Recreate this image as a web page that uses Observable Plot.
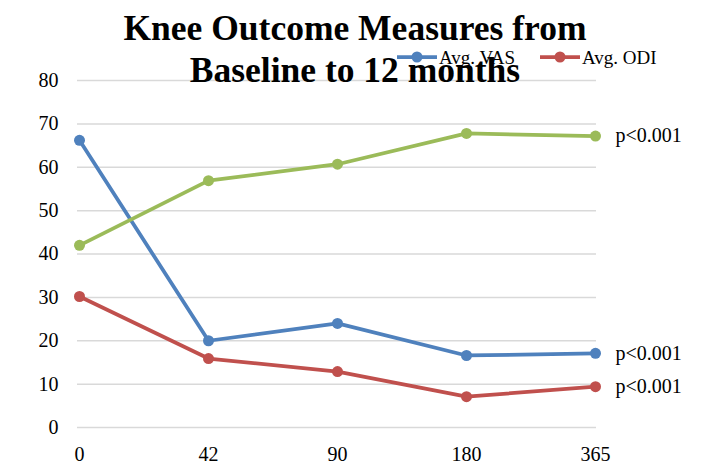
<!DOCTYPE html>
<html>
<head>
<meta charset="utf-8">
<script src="https://cdn.jsdelivr.net/npm/d3@7"></script>
<script src="https://cdn.jsdelivr.net/npm/@observablehq/plot@0.6"></script>
<style>
  html, body { margin: 0; padding: 0; background: #fff; overflow: hidden; }
  #wrap { position: relative; width: 701px; height: 465px; }
  #wrap svg.plot { position: absolute; left: 0; top: 0; }
  #title { position: absolute; left: 55px; top: 7px; width: 600px; text-align: center;
    font-family: "Liberation Serif", "Times New Roman", serif; font-weight: bold; font-size: 35.5px;
    line-height: 42px; color: #000; white-space: pre; z-index: 3; }
  #legend { position: absolute; left: 0; top: 0; z-index: 2; }
</style>
</head>
<body>
<div id="wrap"></div>
<script>
// ---- data ----
const days = ["0", "42", "90", "180", "365"];
const vas = [66.2, 20.0, 24.0, 16.6, 17.1];
const odi = [30.2, 15.9, 12.9, 7.1, 9.4];
const third = [42.0, 56.9, 60.7, 67.8, 67.2];
const seriesNames = ["Avg. VAS", "Avg. ODI", "Third"];
const seriesColors = ["#4f81bd", "#c0504d", "#9bbb59"];
const pLabels = ["p<0.001", "p<0.001", "p<0.001"];
const yTicks = [0, 10, 20, 30, 40, 50, 60, 70, 80];
const titleLines = ["Knee Outcome Measures from", "Baseline to 12 months"];

// ---- build table ----
const seriesValues = [vas, odi, third];
const rows = [];
seriesValues.forEach((vals, s) => {
  vals.forEach((v, i) => rows.push({series: seriesNames[s], day: days[i], value: v}));
});
const lastRows = seriesValues.map((vals, s) => ({
  series: seriesNames[s], day: days[days.length - 1], value: vals[vals.length - 1], p: pLabels[s]
}));

const color = {domain: seriesNames, range: seriesColors};

const chart = Plot.plot({
  width: 701,
  height: 465,
  marginLeft: 77,
  marginRight: 105,
  marginTop: 80,
  marginBottom: 38,
  style: {fontFamily: "Liberation Serif, Times New Roman, serif", fontSize: "20px", color: "#000", background: "#fff"},
  x: {type: "point", domain: days, padding: 0},
  y: {domain: [0, 80], ticks: yTicks},
  color: color,
  marks: [
    Plot.gridY(yTicks, {stroke: "#d9d9d9", strokeOpacity: 1, strokeWidth: 1.5}),
    Plot.axisY(yTicks, {tickSize: 0, tickPadding: 19, fontSize: 20, label: null, fill: "#000"}),
    Plot.axisX({tickSize: 0, tickPadding: 19, fontSize: 20, label: null, fill: "#000"}),
    Plot.line(rows, {x: "day", y: "value", z: "series", stroke: "series", strokeWidth: 3.75, strokeLinejoin: "round", strokeLinecap: "round"}),
    Plot.dot(rows, {x: "day", y: "value", fill: "series", r: 5.5}),
    Plot.text(lastRows, {x: "day", y: "value", text: "p", dx: 20, textAnchor: "start", fontSize: 20, fill: "#000"})
  ]
});
chart.classList.add("plot");
const wrap = document.getElementById("wrap");
wrap.appendChild(chart);

// ---- legend (two entries) ----
const legendEntries = [
  {name: seriesNames[0], color: seriesColors[0], x: 397},
  {name: seriesNames[1], color: seriesColors[1], x: 540}
];
const leg = d3.create("svg").attr("id", "legend").attr("width", 701).attr("height", 90)
  .style("font-family", "Liberation Serif, Times New Roman, serif").style("font-size", "19px");
legendEntries.forEach(e => {
  const g = leg.append("g").attr("transform", `translate(${e.x},57)`);
  g.append("line").attr("x1", 0).attr("x2", 40).attr("y1", 0).attr("y2", 0)
    .attr("stroke", e.color).attr("stroke-width", 3.75);
  g.append("circle").attr("cx", 20).attr("cy", 0).attr("r", 5.5).attr("fill", e.color);
  g.append("text").attr("x", 42).attr("y", 6.5).text(e.name).attr("fill", "#000");
});
wrap.appendChild(leg.node());

// ---- title ----
const t = document.createElement("div");
t.id = "title";
t.textContent = titleLines.join("\n");
wrap.appendChild(t);
</script>
</body>
</html>
